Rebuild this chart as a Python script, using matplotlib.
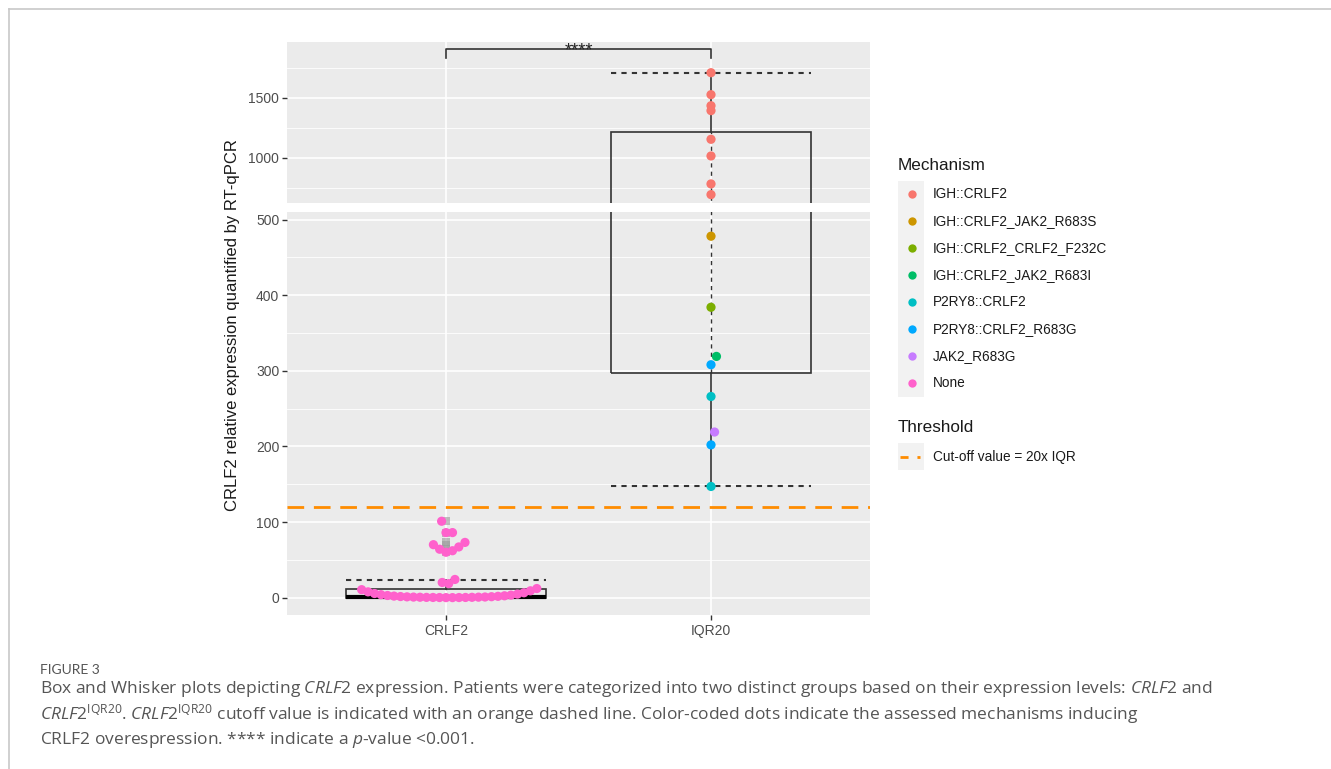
import numpy as np
import matplotlib
matplotlib.use("Agg")
import matplotlib.pyplot as plt
from matplotlib.patches import Rectangle

# ---------------- data ----------------
groups = ["CRLF2", "IQR20"]
mechanisms = ["IGH::CRLF2", "IGH::CRLF2_JAK2_R683S", "IGH::CRLF2_CRLF2_F232C",
              "IGH::CRLF2_JAK2_R683I", "P2RY8::CRLF2", "P2RY8::CRLF2_R683G",
              "JAK2_R683G", "None"]
mech_colors = ["#F8766D", "#CD9600", "#7CAE00", "#00BE67",
               "#00BFC4", "#00A9FF", "#C77CFF", "#FF61CC"]

crlf2_values = [0.0, 0.0, 0.1, 0.1, 0.2, 0.2, 0.3, 0.4, 0.5, 0.6, 0.7, 0.8,
                1.0, 1.2, 1.4, 1.7, 2.0, 2.4, 2.8, 3.3, 3.9, 4.6, 5.4, 6.4,
                7.6, 9.0, 10.5, 12.0,
                18.5, 20.0, 24.0,
                60.0, 62.0, 64.0, 67.0, 70.0, 73.0, 86.0, 86.0, 101.0]
crlf2_mech = ["None"] * len(crlf2_values)

iqr20_values = [1708, 1525, 1433, 1392, 1153, 1014, 781, 692,
                478, 384, 319, 308, 266, 219, 202, 147]
iqr20_mech = ["IGH::CRLF2"] * 8 + ["IGH::CRLF2_JAK2_R683S", "IGH::CRLF2_CRLF2_F232C",
              "IGH::CRLF2_JAK2_R683I", "P2RY8::CRLF2_R683G", "P2RY8::CRLF2",
              "JAK2_R683G", "P2RY8::CRLF2_R683G", "P2RY8::CRLF2"]

# box statistics per group
box_q1 = [0.0, 297.0]
box_med = [0.6, 297.0]
box_q3 = [11.6, 1217.0]
whisk_lo = [0.0, 147.0]
whisk_hi = [23.0, 1708.0]
outliers_crlf2 = [60.0, 64.0, 70.0, 73.0, 86.0, 101.0]

threshold = 120.0
threshold_label = "Cut-off value = 20x IQR"
signif_label = "****"

bottom_ticks = [0, 100, 200, 300, 400, 500]
top_ticks = [1000, 1500]
bottom_ylim = (-23, 510)
top_ylim = (622, 1964)

# ---------------- helpers ----------------
def swarm_offsets(values, y_scale=0.32, x_scale=265.0, d=6.5):
    """Simple ascending-priority beeswarm: returns x offsets in category units."""
    vals = np.asarray(values, dtype=float)
    order = np.argsort(vals, kind="stable")
    placed = []
    offs = np.zeros(len(vals))
    for i in order:
        y = vals[i] * y_scale
        cands = [0.0]
        for (px, py) in placed:
            dy = abs(py - y)
            if dy < d:
                dx = np.sqrt(d * d - dy * dy)
                cands += [px + dx, px - dx]
        cands = sorted(set(cands), key=lambda c: (abs(c), -c))
        chosen = 0.0
        for c in cands:
            ok = True
            for (px, py) in placed:
                if (px - c) ** 2 + (py - y) ** 2 < d * d - 1e-6:
                    ok = False
                    break
            if ok:
                chosen = c
                break
        placed.append((chosen, y))
        offs[i] = chosen / x_scale
    return offs

plt.rcParams['font.family'] = ['Liberation Sans', 'DejaVu Sans']
plt.rcParams['mathtext.fontset'] = 'custom'
plt.rcParams['mathtext.rm'] = 'Open Sans'
plt.rcParams['mathtext.it'] = 'Open Sans:italic'

W, H = 1331, 769
fig = plt.figure(figsize=(W / 100, H / 100), dpi=100)
fig.patch.set_facecolor("white")

def fx(px):
    return px / W

def fy(py):
    return 1 - py / H

panel_l, panel_r = 287, 870
ax_top = fig.add_axes([fx(panel_l), fy(203), fx(panel_r - panel_l), (203 - 42) / H])
ax_bot = fig.add_axes([fx(panel_l), fy(615), fx(panel_r - panel_l), (615 - 212) / H])

BG = "#EBEBEB"
LINEC = "#333333"
TICKC = "#4D4D4D"
xlim = (0.4, 2.6)
xpos = [1, 2]
halfw = 0.377

for ax, ylim, ticks in [(ax_bot, bottom_ylim, bottom_ticks), (ax_top, top_ylim, top_ticks)]:
    ax.set_facecolor(BG)
    ax.set_xlim(*xlim)
    ax.set_ylim(*ylim)
    for s in ax.spines.values():
        s.set_visible(False)
    ax.set_yticks(ticks)
    ax.set_yticklabels([str(t) for t in ticks])
    ax.tick_params(axis="y", direction="out", length=3.5, width=1, color=LINEC,
                   labelcolor=TICKC, labelsize=10, pad=2)
    step = ticks[1] - ticks[0]
    minors = np.arange(ticks[0] - step / 2 - step * 4, ticks[-1] + step * 4, step)
    for m in minors:
        if ylim[0] < m < ylim[1]:
            ax.axhline(m, color="white", lw=0.6, zorder=0.5)
    for t in np.arange(ticks[0] - step * 4, ticks[-1] + step * 4, step):
        if ylim[0] < t < ylim[1]:
            ax.axhline(t, color="white", lw=1.2, zorder=0.6)
    for x in xpos:
        ax.axvline(x, color="white", lw=1.2, zorder=0.6)

ax_top.set_xticks([])
ax_bot.set_xticks(xpos)
ax_bot.set_xticklabels(groups)
ax_bot.tick_params(axis="x", direction="out", length=3.5, width=1, color=LINEC,
                   labelcolor=TICKC, labelsize=10, pad=3)

# ---------------- boxes ----------------
for ax in (ax_bot, ax_top):
    for i, x in enumerate(xpos):
        rect = Rectangle((x - halfw, box_q1[i]), 2 * halfw, box_q3[i] - box_q1[i],
                         facecolor="none", edgecolor=LINEC, lw=1.2, zorder=2)
        ax.add_patch(rect)
        ax.plot([x, x], [whisk_lo[i], box_q1[i]], color=LINEC, lw=1.2, zorder=2)
        ax.plot([x, x], [box_q3[i], whisk_hi[i]], color=LINEC, lw=1.2, zorder=2)
        ax.plot([x, x], [box_q1[i], box_q3[i]], color=LINEC, lw=1.0,
                ls=(0, (3, 3)), zorder=2)
        for v in (whisk_lo[i], whisk_hi[i]):
            if i == 0 and v == whisk_lo[i]:
                continue
            ax.plot([x - halfw, x + halfw], [v, v], color=LINEC, lw=1.5,
                    ls=(0, (2.5, 2.5)), zorder=2)
        if i == 0:
            ax.plot([x - halfw, x + halfw], [box_med[i], box_med[i]], color="black",
                    lw=3, zorder=2, solid_capstyle="butt")

ax_bot.scatter([xpos[0]] * len(outliers_crlf2), outliers_crlf2, s=30, marker="s",
               color="#9A9A9A", alpha=0.6, zorder=2.5, linewidths=0)

ax_bot.axhline(threshold, color="#FF8C00", lw=2, ls=(0, (6, 3.5)), zorder=3)

# ---------------- points ----------------
def draw_points(values, mechs, xc):
    offs = swarm_offsets(values)
    cols = [mech_colors[mechanisms.index(m)] for m in mechs]
    xs = xc + offs
    for ax in (ax_bot, ax_top):
        ax.scatter(xs, values, s=44, c=cols, linewidths=0, zorder=4)

draw_points(crlf2_values, crlf2_mech, xpos[0])
draw_points(iqr20_values, iqr20_mech, xpos[1])

# significance bracket
yb, ytick = 1905, 1830
ax_top.plot([xpos[0], xpos[0], xpos[1], xpos[1]], [ytick, yb, yb, ytick],
            color=LINEC, lw=1.2, zorder=5)
ax_top.text(1.5, yb - 55, signif_label, ha="center", va="baseline", fontsize=13,
            color="#222222", zorder=6)

fig.text(fx(232), fy(325), "CRLF2 relative expression quantified by RT-qPCR",
         rotation=90, ha="center", va="center", fontsize=12, color="#1A1A1A")

# ---------------- overlay (legend, caption, frame) ----------------
pax = fig.add_axes([0, 0, 1, 1], zorder=-1)
pax.set_xlim(0, W)
pax.set_ylim(H, 0)
pax.axis("off")

pax.plot([9, W], [8.5, 8.5], color="#C8C8C8", lw=1.2)
pax.plot([9, 9], [8.5, H], color="#C8C8C8", lw=1.2)

lg_x = 898
pax.text(lg_x, 165, "Mechanism", fontsize=12.3, color="#1A1A1A", va="center", ha="left")
ent_y0, ent_dy = 194, 27
pax.add_patch(Rectangle((lg_x, ent_y0 - ent_dy / 2), 26, ent_dy * len(mechanisms),
                        facecolor="#F2F2F2", edgecolor="none"))
for k, (m, c) in enumerate(zip(mechanisms, mech_colors)):
    yy = ent_y0 + k * ent_dy
    pax.scatter([912], [yy], s=36, color=c, linewidths=0)
    pax.text(933, yy, m, fontsize=9.8, color="#1A1A1A", va="center", ha="left")

pax.text(lg_x, 427, "Threshold", fontsize=12.3, color="#1A1A1A", va="center", ha="left")
pax.add_patch(Rectangle((lg_x, 443), 26, 27, facecolor="#F2F2F2", edgecolor="none"))
pax.plot([900, 920], [457, 457], color="#FF8C00", lw=2, ls=(0, (2.9, 3.2)),
         solid_capstyle="butt", dash_capstyle="butt")
pax.text(933, 457, threshold_label, fontsize=9.8, color="#1A1A1A", va="center", ha="left")

# caption
capc = "#555555"
pax.text(40, 670, "FIGURE 3", fontsize=10, color=capc, va="center", ha="left",
         family="Lato")
cap_lines = [
    r"Box and Whisker plots depicting $\mathit{CRLF2}$ expression. Patients were categorized into two distinct groups based on their expression levels: $\mathit{CRLF2}$ and",
    r"$\mathit{CRLF2}^{\mathrm{IQR20}}$. $\mathit{CRLF2}^{\mathrm{IQR20}}$ cutoff value is indicated with an orange dashed line. Color-coded dots indicate the assessed mechanisms inducing",
    r"CRLF2 overespression. **** indicate a $\mathit{p}$-value <0.001.",
]
for k, line in enumerate(cap_lines):
    pax.text(40, 689 + k * 25.5, line, fontsize=12.5, color=capc, va="center",
             ha="left", family="Open Sans")

fig.savefig("out.png", dpi=100, facecolor="white")
